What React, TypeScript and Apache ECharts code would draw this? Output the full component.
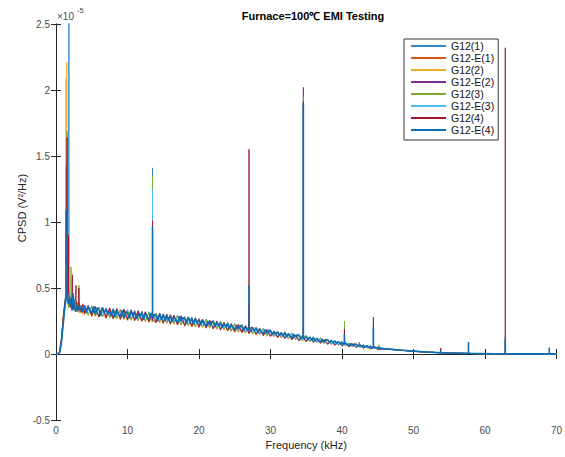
import React, { useEffect, useRef } from "react";
import * as echarts from "echarts";

// Frequency grid (kHz) used by most traces
const freqKHz = [
  0, 0.25, 0.5, 0.75, 1, 1.25, 1.5, 1.75, 2, 2.25, 2.5, 2.75, 3, 3.25, 3.5, 3.75, 4,
  4.5, 5, 5.5, 6, 6.5, 7, 7.5, 8, 8.5, 9, 9.5, 10,
  10.5, 11, 11.5, 12, 12.5, 13, 13.5, 14, 14.5, 15,
  15.5, 16, 16.5, 17, 17.5, 18, 18.5, 19, 19.5, 20,
  20.5, 21, 21.5, 22, 22.5, 23, 23.5, 24, 24.5, 25,
  25.5, 26, 26.5, 27, 27.5, 28, 28.5, 29, 29.5, 30,
  30.5, 31, 31.5, 32, 32.5, 33, 33.5, 34, 34.5, 35,
  35.5, 36, 36.5, 37, 37.5, 38, 38.5, 39, 39.5, 40,
  40.5, 41, 41.5, 42, 42.5, 43, 43.5, 44, 44.5, 45,
  46, 47, 48, 49, 50, 51, 52, 53, 54, 55, 56, 57, 58, 59, 60, 61, 62, 63, 64, 65, 66, 67, 68, 69, 70,
];

// Finer grid (kHz) for the top trace G12-E(4)
const freqFineKHz = [
  0, 0.25, 0.5, 0.75, 1, 1.25, 1.5, 1.75, 2, 2.25, 2.5, 2.75,
  3, 3.25, 3.5, 3.75, 4, 4.25, 4.5, 4.75, 5, 5.25, 5.5, 5.75, 6, 6.25, 6.5, 6.75,
  7, 7.25, 7.5, 7.75, 8, 8.25, 8.5, 8.75, 9, 9.25, 9.5, 9.75, 10, 10.25, 10.5, 10.75,
  11, 11.25, 11.5, 11.75, 12, 12.25, 12.5, 12.75, 13, 13.25, 13.5, 13.75, 14, 14.25, 14.5, 14.75,
  15, 15.25, 15.5, 15.75, 16, 16.25, 16.5, 16.75, 17, 17.25, 17.5, 17.75, 18, 18.25, 18.5, 18.75,
  19, 19.25, 19.5, 19.75, 20, 20.25, 20.5, 20.75, 21, 21.25, 21.5, 21.75, 22, 22.25, 22.5, 22.75,
  23, 23.25, 23.5, 23.75, 24, 24.25, 24.5, 24.75, 25, 25.25, 25.5, 25.75, 26, 26.25, 26.5, 26.75,
  27, 27.25, 27.5, 27.75, 28, 28.25, 28.5, 28.75, 29, 29.25, 29.5, 29.75, 30, 30.25, 30.5, 30.75,
  31, 31.25, 31.5, 31.75, 32, 32.25, 32.5, 32.75, 33, 33.25, 33.5, 33.75, 34, 34.25, 34.5, 34.75,
  35, 35.25, 35.5, 35.75, 36, 36.25, 36.5, 36.75, 37, 37.25, 37.5, 37.75, 38, 38.25, 38.5, 38.75,
  39, 39.25, 39.5, 39.75, 40, 40.25, 40.5, 40.75, 41, 41.25, 41.5, 41.75, 42, 42.25, 42.5, 42.75,
  43, 43.25, 43.5, 43.75, 44, 44.25, 44.5, 44.75, 45,
  46, 47, 48, 49, 50, 51, 52, 53, 54, 55, 56, 57, 58, 59, 60, 61, 62, 63, 64, 65, 66, 67, 68, 69, 70,
];

const seriesNames = ["G12(1)", "G12-E(1)", "G12(2)", "G12-E(2)", "G12(3)", "G12-E(3)", "G12(4)", "G12-E(4)"];
const seriesColors = ["#2F86C8", "#D95319", "#EDB120", "#7E2F8E", "#77AC30", "#4DBEEE", "#A2142F", "#0B6FB8"];

// CPSD values (x 1e-5 V^2/Hz)
const tailA = [0.038, 0.034, 0.029, 0.025, 0.021, 0.017, 0.014, 0.011, 0.009, 0.007, 0.006, 0.005, 0.004, 0.003, 0.002, 0.002, 0.002, 0.001, 0.001, 0.001, 0.001, 0.001, 0.001, 0.001, 0.001];
const tailB = [0.04, 0.035, 0.03, 0.026, 0.022, 0.018, 0.015, 0.012, 0.01, 0.008, 0.006, 0.005, 0.004, 0.003, 0.003, 0.002, 0.002, 0.002, 0.001, 0.001, 0.001, 0.001, 0.001, 0.001, 0.001];

const g12_1 = [
  0, 0, 0.02, 0.10, 0.25, 0.38, 0.42, 0.37, 0.43, 0.34, 0.41, 0.33, 0.39, 0.32, 0.37, 0.31, 0.36,
  0.295, 0.365, 0.29, 0.355, 0.28, 0.35, 0.275, 0.345, 0.27, 0.34, 0.265, 0.335,
  0.26, 0.33, 0.255, 0.325, 0.25, 0.32, 0.245, 0.31, 0.24, 0.305,
  0.235, 0.30, 0.23, 0.295, 0.225, 0.285, 0.22, 0.28, 0.21, 0.27,
  0.205, 0.265, 0.20, 0.255, 0.19, 0.25, 0.185, 0.24, 0.175, 0.23,
  0.17, 0.225, 0.165, 0.215, 0.155, 0.205, 0.15, 0.195, 0.14, 0.185,
  0.135, 0.175, 0.125, 0.17, 0.12, 0.16, 0.11, 0.15, 0.10, 0.14,
  0.096, 0.132, 0.088, 0.124, 0.082, 0.114, 0.075, 0.104, 0.068, 0.094,
  0.064, 0.085, 0.058, 0.078, 0.052, 0.07, 0.046, 0.062, 0.04, 0.055,
  ...tailA,
];
const g12e_1 = [
  0, 0, 0.01, 0.09, 0.24, 0.37, 0.44, 0.41, 0.35, 0.41, 0.33, 0.39, 0.32, 0.38, 0.31, 0.37, 0.30,
  0.36, 0.285, 0.355, 0.28, 0.35, 0.27, 0.345, 0.265, 0.34, 0.26, 0.335, 0.255,
  0.33, 0.25, 0.325, 0.245, 0.32, 0.24, 0.31, 0.235, 0.305, 0.23,
  0.30, 0.225, 0.29, 0.22, 0.285, 0.21, 0.28, 0.205, 0.27, 0.20,
  0.26, 0.195, 0.255, 0.19, 0.245, 0.18, 0.24, 0.175, 0.23, 0.165,
  0.22, 0.16, 0.21, 0.155, 0.20, 0.145, 0.19, 0.14, 0.18, 0.13,
  0.17, 0.122, 0.16, 0.115, 0.15, 0.108, 0.14, 0.10, 0.13, 0.092,
  0.125, 0.088, 0.115, 0.08, 0.108, 0.073, 0.1, 0.066, 0.09, 0.06,
  0.082, 0.054, 0.075, 0.049, 0.068, 0.044, 0.06, 0.04, 0.053, 0.036,
  ...tailA,
];
const g12_2 = [
  0, 0, 0.02, 0.12, 0.28, 0.40, 0.43, 0.36, 0.41, 0.33, 0.40, 0.32, 0.38, 0.31, 0.36, 0.30, 0.35,
  0.29, 0.355, 0.285, 0.35, 0.28, 0.34, 0.27, 0.335, 0.265, 0.33, 0.26, 0.325,
  0.255, 0.32, 0.25, 0.315, 0.245, 0.31, 0.24, 0.30, 0.235, 0.295,
  0.23, 0.29, 0.225, 0.285, 0.22, 0.275, 0.215, 0.27, 0.205, 0.26,
  0.20, 0.255, 0.195, 0.245, 0.185, 0.24, 0.18, 0.23, 0.17, 0.22,
  0.165, 0.215, 0.16, 0.205, 0.15, 0.195, 0.145, 0.185, 0.135, 0.175,
  0.13, 0.168, 0.122, 0.16, 0.115, 0.152, 0.106, 0.142, 0.098, 0.132,
  0.092, 0.125, 0.085, 0.116, 0.078, 0.107, 0.072, 0.098, 0.066, 0.088,
  0.062, 0.08, 0.056, 0.073, 0.05, 0.066, 0.045, 0.058, 0.04, 0.051,
  ...tailB,
];
const g12e_2 = [
  0, 0, 0.01, 0.10, 0.26, 0.38, 0.40, 0.42, 0.36, 0.40, 0.35, 0.37, 0.34, 0.36, 0.33, 0.35, 0.32,
  0.35, 0.30, 0.345, 0.29, 0.34, 0.285, 0.335, 0.28, 0.33, 0.275, 0.325, 0.27,
  0.32, 0.265, 0.315, 0.26, 0.31, 0.255, 0.30, 0.25, 0.295, 0.245,
  0.29, 0.24, 0.285, 0.23, 0.28, 0.225, 0.27, 0.22, 0.265, 0.215,
  0.255, 0.205, 0.245, 0.20, 0.24, 0.19, 0.23, 0.185, 0.22, 0.175,
  0.215, 0.17, 0.205, 0.16, 0.195, 0.155, 0.185, 0.145, 0.175, 0.14,
  0.165, 0.13, 0.155, 0.122, 0.148, 0.115, 0.138, 0.105, 0.128, 0.098,
  0.12, 0.092, 0.112, 0.085, 0.104, 0.078, 0.096, 0.07, 0.088, 0.064,
  0.078, 0.058, 0.072, 0.052, 0.065, 0.047, 0.058, 0.042, 0.051, 0.038,
  ...tailA,
];
const g12_3 = [
  0, 0, 0.02, 0.11, 0.27, 0.39, 0.44, 0.35, 0.42, 0.34, 0.40, 0.33, 0.38, 0.32, 0.36, 0.31, 0.35,
  0.30, 0.36, 0.29, 0.355, 0.285, 0.345, 0.28, 0.34, 0.27, 0.335, 0.265, 0.33,
  0.26, 0.325, 0.255, 0.32, 0.25, 0.31, 0.245, 0.305, 0.24, 0.30,
  0.235, 0.295, 0.23, 0.29, 0.22, 0.28, 0.215, 0.275, 0.21, 0.265,
  0.205, 0.26, 0.20, 0.25, 0.19, 0.245, 0.185, 0.235, 0.175, 0.225,
  0.17, 0.22, 0.16, 0.21, 0.155, 0.20, 0.15, 0.19, 0.14, 0.18,
  0.135, 0.172, 0.125, 0.165, 0.118, 0.155, 0.11, 0.146, 0.10, 0.136,
  0.095, 0.128, 0.088, 0.12, 0.08, 0.11, 0.074, 0.1, 0.067, 0.091,
  0.063, 0.082, 0.057, 0.075, 0.051, 0.068, 0.046, 0.06, 0.041, 0.053,
  ...tailB,
];
const g12e_3 = [
  0, 0, 0.01, 0.09, 0.23, 0.36, 0.41, 0.43, 0.37, 0.39, 0.38, 0.36, 0.36, 0.34, 0.34, 0.35, 0.33,
  0.33, 0.32, 0.32, 0.31, 0.31, 0.31, 0.30, 0.30, 0.30, 0.29, 0.29, 0.29,
  0.285, 0.285, 0.28, 0.28, 0.275, 0.275, 0.27, 0.27, 0.265, 0.26,
  0.26, 0.255, 0.255, 0.25, 0.25, 0.245, 0.24, 0.24, 0.235, 0.23,
  0.23, 0.225, 0.22, 0.215, 0.215, 0.21, 0.205, 0.20, 0.20, 0.195,
  0.19, 0.185, 0.18, 0.175, 0.17, 0.165, 0.16, 0.16, 0.155, 0.15,
  0.145, 0.14, 0.135, 0.13, 0.128, 0.124, 0.12, 0.115, 0.11, 0.108,
  0.104, 0.10, 0.095, 0.092, 0.088, 0.084, 0.08, 0.077, 0.074, 0.07,
  0.067, 0.064, 0.06, 0.057, 0.054, 0.051, 0.048, 0.046, 0.043, 0.041,
  ...tailA,
];
const g12_4 = [
  0, 0, 0.02, 0.11, 0.27, 0.40, 0.45, 0.48, 0.36, 0.44, 0.34, 0.42, 0.33, 0.40, 0.32, 0.38, 0.31,
  0.37, 0.29, 0.36, 0.28, 0.355, 0.275, 0.35, 0.27, 0.345, 0.265, 0.34, 0.26,
  0.335, 0.255, 0.33, 0.25, 0.32, 0.245, 0.315, 0.24, 0.31, 0.235,
  0.30, 0.23, 0.295, 0.22, 0.29, 0.215, 0.28, 0.21, 0.275, 0.205,
  0.265, 0.20, 0.255, 0.19, 0.25, 0.185, 0.24, 0.175, 0.23, 0.17,
  0.225, 0.165, 0.215, 0.155, 0.205, 0.15, 0.195, 0.14, 0.185, 0.135,
  0.175, 0.125, 0.165, 0.12, 0.155, 0.11, 0.145, 0.10, 0.135, 0.095,
  0.13, 0.09, 0.12, 0.082, 0.11, 0.075, 0.102, 0.068, 0.094, 0.062,
  0.085, 0.055, 0.078, 0.05, 0.07, 0.045, 0.062, 0.04, 0.055, 0.037,
  ...tailA,
];
// G12-E(4), on the finer grid
const g12e_4 = [
  0, 0, 0.01, 0.08, 0.22, 0.36, 0.46, 0.38, 0.42, 0.33, 0.40, 0.32,
  0.37, 0.33, 0.36, 0.32, 0.37, 0.31, 0.36, 0.33, 0.31, 0.36, 0.30, 0.35, 0.34, 0.29, 0.35, 0.31,
  0.34, 0.30, 0.32, 0.285, 0.34, 0.28, 0.33, 0.30, 0.29, 0.33, 0.275, 0.32, 0.31, 0.27, 0.33, 0.285,
  0.32, 0.265, 0.30, 0.28, 0.315, 0.26, 0.31, 0.275, 0.265, 0.31, 0.27, 0.30, 0.29, 0.25, 0.305, 0.26,
  0.30, 0.25, 0.285, 0.255, 0.29, 0.245, 0.28, 0.26, 0.235, 0.285, 0.25, 0.275, 0.27, 0.23, 0.28, 0.24,
  0.27, 0.225, 0.265, 0.235, 0.26, 0.22, 0.255, 0.23, 0.215, 0.25, 0.22, 0.245, 0.245, 0.205, 0.24, 0.215,
  0.235, 0.20, 0.23, 0.205, 0.23, 0.19, 0.225, 0.20, 0.185, 0.22, 0.19, 0.215, 0.21, 0.175, 0.205, 0.18,
  0.20, 0.17, 0.20, 0.175, 0.195, 0.16, 0.19, 0.165, 0.155, 0.185, 0.16, 0.18, 0.175, 0.145, 0.17, 0.15,
  0.165, 0.14, 0.16, 0.135, 0.16, 0.13, 0.155, 0.135, 0.125, 0.15, 0.13, 0.145, 0.14, 0.115, 0.14, 0.12,
  0.13, 0.108, 0.128, 0.105, 0.122, 0.10, 0.12, 0.098, 0.095, 0.113, 0.092, 0.11, 0.105, 0.086, 0.104, 0.084,
  0.096, 0.079, 0.095, 0.077, 0.088, 0.072, 0.086, 0.07, 0.065, 0.08, 0.066, 0.076, 0.072, 0.06, 0.07, 0.058,
  0.064, 0.053, 0.063, 0.051, 0.057, 0.047, 0.056, 0.046, 0.047,
  ...tailB,
];

// Narrow spectral peaks: [frequency kHz, base value, peak value]
const peaksG12_1 = [[1.8, 0.44, 2.9], [13.5, 0.27, 1.41], [34.6, 0.13, 1.85], [62.85, 0.002, 0.1]];
const peaksG12E_1 = [[1.6, 0.44, 1.2], [26.95, 0.19, 0.36], [42.4, 0.066, 0.09], [53.8, 0.01, 0.045]];
const peaksG12_2 = [[1.4, 0.41, 2.09], [1.5, 0.43, 2.21], [45.2, 0.04, 0.07]];
const peaksG12E_2 = [[1.45, 0.41, 1.43], [34.6, 0.125, 2.02]];
const peaksG12_3 = [[1.55, 0.44, 1.69], [2.1, 0.41, 0.66], [3.2, 0.37, 0.52], [13.5, 0.27, 1.35], [34.6, 0.13, 1.95], [40.35, 0.08, 0.25], [45.2, 0.04, 0.065], [62.85, 0.002, 0.1]];
const peaksG12E_3 = [[13.5, 0.27, 1.25], [34.6, 0.12, 1.88], [44.4, 0.05, 0.22], [62.85, 0.002, 0.14]];
const peaksG12_4 = [[1.55, 0.45, 1.64], [1.75, 0.48, 0.9], [2.3, 0.44, 0.6], [2.8, 0.42, 0.52], [3.2, 0.4, 0.5], [13.5, 0.26, 1.01], [27.0, 0.19, 1.55], [34.6, 0.12, 1.91], [40.35, 0.075, 0.19], [44.4, 0.047, 0.28], [53.8, 0.01, 0.045], [62.85, 0.002, 2.32]];
const peaksG12E_4 = [[1.4, 0.46, 1.09], [2.4, 0.45, 0.46], [13.5, 0.27, 0.97], [27.0, 0.19, 0.52], [34.6, 0.12, 1.89], [40.35, 0.08, 0.15], [44.4, 0.05, 0.2], [53.8, 0.01, 0.03], [57.7, 0.004, 0.09], [62.85, 0.002, 0.12], [69.0, 0.001, 0.05]];

const seriesValues = [g12_1, g12e_1, g12_2, g12e_2, g12_3, g12e_3, g12_4, g12e_4];
const seriesFreqs = [freqKHz, freqKHz, freqKHz, freqKHz, freqKHz, freqKHz, freqKHz, freqFineKHz];
const seriesPeaks = [peaksG12_1, peaksG12E_1, peaksG12_2, peaksG12E_2, peaksG12_3, peaksG12E_3, peaksG12_4, peaksG12E_4];

const xTicks = [0, 10, 20, 30, 40, 50, 60, 70];
const yTicks = [-0.5, 0, 0.5, 1, 1.5, 2, 2.5];

const FONT = "'Liberation Sans', Arial, Helvetica, sans-serif";
const AXIS = "#262626";
const LABEL = "#4a4a4a";

function buildData(freqs: number[], vals: number[], peaks: number[][]) {
  const pts: { x: number; order: number; y: number }[] = [];
  freqs.forEach((f, j) => pts.push({ x: f, order: 0, y: vals[j] }));
  peaks.forEach(([f, b, p]) => {
    pts.push({ x: f, order: 1, y: b });
    pts.push({ x: f, order: 2, y: p });
    pts.push({ x: f, order: 3, y: b });
  });
  pts.sort((a, b) => a.x - b.x || a.order - b.order);
  return pts.map((p) => [p.x, p.y]);
}

export default function App() {
  const ref = useRef<HTMLDivElement>(null);
  useEffect(() => {
    if (!ref.current) return;
    const chart = echarts.init(ref.current, undefined, { renderer: "svg" });
    const tickStyle = { show: true, inside: true, length: 5, lineStyle: { color: AXIS, width: 1 } };
    const option = {
      animation: false,
      backgroundColor: "#ffffff",
      textStyle: { fontFamily: FONT },
      title: {
        text: "Furnace=100\u2103 EMI Testing",
        left: 308,
        textAlign: "center",
        top: 5,
        textStyle: { fontSize: 11, fontWeight: "bold", color: "#000", fontFamily: FONT },
      },
      grid: { left: 56, right: 5, top: 24, bottom: 37, containLabel: false },
      legend: {
        orient: "vertical",
        left: 404,
        top: 39,
        icon: "rect",
        itemWidth: 35,
        itemHeight: 2,
        itemGap: 0,
        selectedMode: false,
        padding: [1, 4, 4, 7],
        borderColor: "#333",
        borderWidth: 1,
        backgroundColor: "#fff",
        textStyle: { fontSize: 10.5, color: "#111", fontFamily: FONT, lineHeight: 12, height: 12 },
        data: seriesNames,
      },
      xAxis: [
        {
          type: "value",
          min: 0,
          max: 70,
          interval: 10,
          name: "Frequency (kHz)",
          nameLocation: "middle",
          nameGap: 16,
          nameTextStyle: { fontSize: 11, color: "#222", fontFamily: FONT },
          axisLine: { show: true, lineStyle: { color: AXIS, width: 1 } },
          axisTick: tickStyle,
          axisLabel: { fontSize: 10, color: LABEL, margin: 5, fontFamily: FONT, customValues: xTicks },
          splitLine: { show: false },
        },
        {
          type: "value",
          position: "top",
          min: 0,
          max: 70,
          interval: 10,
          axisLine: { show: true, lineStyle: { color: AXIS, width: 1 } },
          axisTick: tickStyle,
          axisLabel: { show: false },
          splitLine: { show: false },
        },
      ],
      yAxis: [
        {
          type: "value",
          min: -0.5,
          max: 2.5,
          interval: 0.5,
          axisLine: { show: true, lineStyle: { color: AXIS, width: 1 } },
          axisTick: tickStyle,
          axisLabel: { fontSize: 10, color: LABEL, margin: 6, fontFamily: FONT, customValues: yTicks },
          splitLine: { show: false },
        },
        {
          type: "value",
          position: "right",
          min: -0.5,
          max: 2.5,
          interval: 0.5,
          axisLine: { show: true, lineStyle: { color: AXIS, width: 1 } },
          axisTick: tickStyle,
          axisLabel: { show: false },
          splitLine: { show: false },
        },
      ],
      graphic: [
        {
          type: "text",
          left: 57,
          top: 11,
          style: { text: "\u00d710", fontSize: 10, fill: LABEL, fontFamily: FONT },
        },
        {
          type: "text",
          left: 77,
          top: 6,
          style: { text: "-5", fontSize: 7.5, fill: LABEL, fontFamily: FONT },
        },
        {
          type: "text",
          x: 22,
          y: 208,
          rotation: Math.PI / 2,
          style: {
            text: "CPSD (V\u00b2/Hz)",
            fontSize: 11,
            fill: "#222",
            fontFamily: FONT,
            align: "center",
            verticalAlign: "middle",
          },
        },
      ],
      series: seriesNames.map((name, i) => ({
        name,
        type: "line",
        xAxisIndex: 0,
        yAxisIndex: 0,
        symbol: "none",
        showSymbol: false,
        clip: true,
        z: 2 + i,
        color: seriesColors[i],
        lineStyle: { width: i === 7 ? 1.6 : 0.9, color: seriesColors[i] },
        data: buildData(seriesFreqs[i], seriesValues[i], seriesPeaks[i]),
      })),
    };
    chart.setOption(option as any);
    return () => chart.dispose();
  }, []);
  return (
    <div
      ref={ref}
      style={{ position: "fixed", left: 0, top: 0, width: 565, height: 457, background: "#fff" }}
    />
  );
}
